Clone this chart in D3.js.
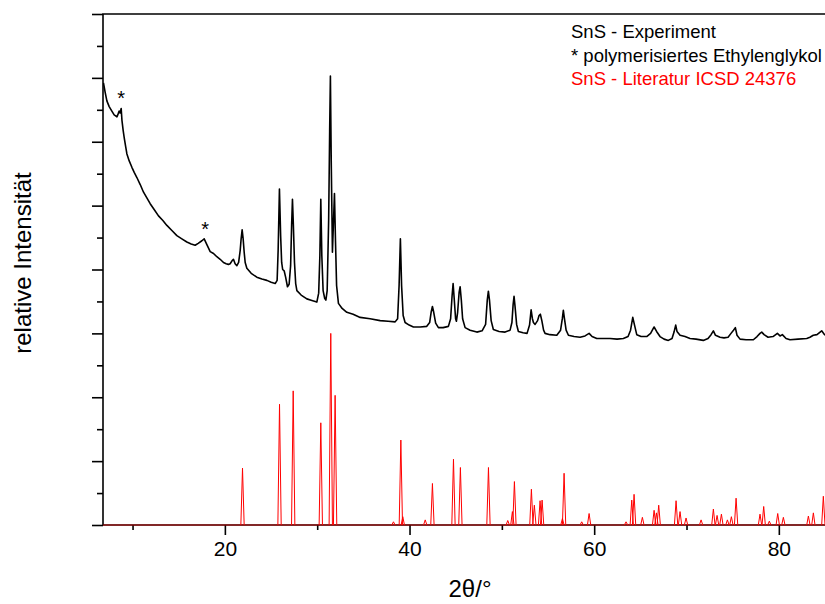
<!DOCTYPE html>
<html>
<head>
<meta charset="utf-8">
<script src="https://cdn.jsdelivr.net/npm/d3@7"></script>
<style>
  body { margin: 0; background: #fff; }
  svg { display: block; font-family: "Liberation Sans", Arial, sans-serif; }
</style>
</head>
<body>
<svg id="chart" width="825" height="604"></svg>
<script>
// ---- data: [2θ in degrees, relative intensity (arb. units)] ----
const expPattern = [
[6.85,6.92],[7.04,6.77],[7.22,6.64],[7.47,6.55],[7.76,6.48],[8.01,6.42],[8.31,6.39],[8.45,6.44],[8.55,6.48],[8.66,6.45],[8.77,6.52],[8.85,6.34],[8.99,6.17],[9.10,6.06],[9.26,5.92],[9.39,5.81],[9.64,5.70],[9.93,5.60],[10.18,5.52],[10.47,5.44],[10.83,5.33],[11.19,5.21],[11.55,5.12],[11.91,5.03],[12.34,4.94],[12.81,4.84],[13.26,4.77],[13.72,4.69],[14.26,4.61],[14.80,4.53],[15.34,4.48],[15.88,4.43],[16.35,4.40],[16.78,4.38],[17.11,4.41],[17.51,4.45],[17.76,4.48],[18.05,4.39],[18.41,4.28],[18.77,4.25],[19.13,4.20],[19.49,4.16],[19.85,4.11],[20.14,4.09],[20.39,4.08],[20.57,4.09],[20.79,4.14],[20.93,4.16],[21.11,4.09],[21.30,4.06],[21.49,4.11],[21.66,4.30],[21.76,4.48],[21.87,4.62],[21.98,4.48],[22.09,4.27],[22.20,4.11],[22.38,4.02],[22.85,3.94],[23.46,3.88],[24.01,3.85],[24.55,3.83],[25.01,3.80],[25.45,3.78],[25.66,3.83],[25.77,4.30],[25.91,5.26],[26.04,4.53],[26.15,4.11],[26.26,4.00],[26.42,3.98],[26.58,3.88],[26.78,3.73],[26.96,3.77],[27.12,4.06],[27.23,4.69],[27.32,5.10],[27.42,4.69],[27.54,4.11],[27.67,3.78],[27.80,3.67],[28.26,3.60],[28.88,3.54],[29.34,3.52],[29.96,3.49],[30.16,3.63],[30.29,4.22],[30.39,5.10],[30.50,4.22],[30.64,3.67],[30.81,3.55],[30.94,3.52],[31.08,3.67],[31.24,4.77],[31.35,6.17],[31.43,7.03],[31.52,5.70],[31.65,4.27],[31.75,4.69],[31.87,5.19],[31.98,4.45],[32.10,3.75],[32.30,3.47],[32.70,3.39],[33.21,3.33],[33.89,3.30],[34.65,3.25],[35.73,3.23],[36.82,3.20],[37.68,3.19],[38.44,3.18],[38.71,3.23],[38.87,3.75],[39.01,4.48],[39.14,3.75],[39.31,3.28],[39.52,3.17],[39.96,3.13],[40.42,3.10],[41.15,3.10],[41.87,3.11],[42.18,3.17],[42.34,3.33],[42.48,3.42],[42.62,3.33],[42.83,3.16],[43.13,3.09],[43.64,3.09],[44.21,3.11],[44.45,3.23],[44.61,3.59],[44.72,3.78],[44.85,3.52],[44.99,3.23],[45.08,3.19],[45.21,3.33],[45.37,3.64],[45.48,3.73],[45.61,3.52],[45.75,3.23],[46.02,3.09],[46.56,3.05],[47.29,3.02],[47.86,3.04],[48.24,3.14],[48.42,3.52],[48.54,3.66],[48.66,3.52],[48.84,3.20],[49.08,3.06],[49.70,3.03],[50.35,3.02],[50.89,3.05],[51.09,3.17],[51.22,3.45],[51.32,3.58],[51.43,3.42],[51.60,3.14],[51.79,3.03],[52.30,3.01],[52.73,3.00],[53.00,3.13],[53.17,3.37],[53.31,3.23],[53.42,3.17],[53.60,3.14],[53.87,3.20],[54.03,3.28],[54.17,3.30],[54.33,3.20],[54.52,3.05],[54.68,3.00],[55.22,2.98],[55.95,2.97],[56.36,3.05],[56.55,3.23],[56.66,3.36],[56.78,3.23],[56.96,3.05],[57.21,2.97],[57.82,2.95],[58.47,2.94],[59.01,2.96],[59.45,3.00],[59.77,2.95],[60.28,2.92],[60.96,2.92],[61.72,2.92],[62.48,2.91],[63.16,2.92],[63.67,2.95],[63.94,3.05],[64.18,3.25],[64.37,3.13],[64.61,2.98],[65.08,2.95],[65.69,2.95],[66.11,3.00],[66.49,3.10],[66.76,3.03],[67.13,2.95],[67.57,2.91],[68.03,2.89],[68.43,2.92],[68.65,3.02],[68.83,3.13],[68.97,3.03],[69.30,2.97],[69.84,2.95],[70.38,2.92],[71.03,2.91],[71.82,2.89],[72.33,2.92],[72.66,2.98],[72.91,3.04],[73.14,2.97],[73.63,2.94],[74.06,2.93],[74.50,2.94],[74.82,3.00],[75.09,3.05],[75.29,3.09],[75.47,2.97],[75.80,2.91],[76.45,2.90],[77.24,2.90],[77.64,2.95],[77.96,3.00],[78.15,3.02],[78.40,2.98],[78.83,2.94],[79.37,2.95],[79.84,3.00],[80.13,2.96],[80.38,2.98],[80.78,2.92],[81.21,2.90],[82.08,2.91],[83.02,2.92],[83.37,2.94],[83.73,2.97],[84.13,2.98],[84.64,3.04],[85.00,2.97]
];

const refTheta = [21.91,25.92,27.40,30.39,31.47,31.94,38.26,39.06,39.27,41.70,42.48,44.76,45.51,48.55,50.64,51.14,51.36,53.20,53.52,54.14,54.36,56.56,56.74,58.65,59.45,63.45,64.07,64.32,65.22,66.49,66.74,66.99,68.87,69.30,69.95,71.58,72.91,73.31,73.78,74.43,74.86,75.37,77.96,78.36,78.97,79.88,80.49,83.20,83.74,84.82];
const refIntensity = [0.89,1.89,2.10,1.60,3.00,2.03,0.05,1.33,0.13,0.08,0.65,1.03,0.90,0.90,0.07,0.21,0.68,0.56,0.31,0.38,0.39,0.10,0.81,0.05,0.18,0.05,0.39,0.48,0.12,0.23,0.19,0.31,0.38,0.21,0.11,0.08,0.25,0.15,0.17,0.08,0.13,0.42,0.17,0.29,0.06,0.18,0.12,0.14,0.19,0.45];

const starMarks = [[8.77, 6.58], [17.87, 4.53]];

const xMajorTicks = [20, 40, 60, 80];
const xMinorTicks = [10, 30, 50, 70];
const yMajorTicks = [0, 1, 2, 3, 4, 5, 6, 7, 8];
const yMinorTicks = [0.5, 1.5, 2.5, 3.5, 4.5, 5.5, 6.5, 7.5];

const legendLines = [
  {text: "SnS - Experiment", color: "#000"},
  {text: "* polymerisiertes Ethylenglykol", color: "#000"},
  {text: "SnS - Literatur ICSD 24376", color: "#ff0000"}
];

// ---- layout ----
const svg = d3.select("#chart");
const pLeft = 103, pRight = 825, pTop = 14, pBottom = 525;
const x = d3.scaleLinear().domain([6.8, 85]).range([pLeft, pRight]);
const y = d3.scaleLinear().domain([0, 8]).range([pBottom, pTop]);

svg.append("defs").append("clipPath").attr("id", "plotclip")
  .append("rect").attr("x", pLeft).attr("y", pTop).attr("width", pRight - pLeft).attr("height", pBottom - pTop + 2);

// axes
const gx1 = svg.append("g").attr("transform", `translate(0,${pBottom})`)
  .call(d3.axisBottom(x).tickValues(xMajorTicks).tickSize(10).tickPadding(6).tickFormat(d3.format("d")));
const gx2 = svg.append("g").attr("transform", `translate(0,${pBottom})`)
  .call(d3.axisBottom(x).tickValues(xMinorTicks).tickSize(5).tickFormat(""));
const gy1 = svg.append("g").attr("transform", `translate(${pLeft},0)`)
  .call(d3.axisLeft(y).tickValues(yMajorTicks).tickSize(11).tickFormat(""));
const gy2 = svg.append("g").attr("transform", `translate(${pLeft},0)`)
  .call(d3.axisLeft(y).tickValues(yMinorTicks).tickSize(6).tickFormat(""));
[gx1, gx2, gy1, gy2].forEach(g => {
  g.select(".domain").remove();
  g.selectAll(".tick line").attr("stroke", "#000").attr("stroke-width", 1.6);
  g.selectAll(".tick text").attr("font-size", 21).attr("fill", "#000")
    .attr("font-family", "Liberation Sans, Arial, sans-serif");
});

// frame (left, top, bottom)
svg.append("path")
  .attr("d", `M${pRight},${pTop}H${pLeft}V${pBottom}H${pRight}`)
  .attr("fill", "none").attr("stroke", "#000").attr("stroke-width", 1.6);

const plot = svg.append("g").attr("clip-path", "url(#plotclip)");

// reference pattern (red)
const hw = 0.18;
plot.append("line")
  .attr("x1", pLeft).attr("x2", pRight).attr("y1", y(0)).attr("y2", y(0))
  .attr("stroke", "#ff0000").attr("stroke-width", 1).attr("opacity", 0.7);
const refLine = d3.line().x(d => x(d[0])).y(d => y(d[1]));
plot.selectAll("path.ref").data(refTheta.map((t, i) => [t, refIntensity[i]]))
  .join("path").attr("class", "ref")
  .attr("d", d => refLine([[d[0] - hw, 0], [d[0], d[1]], [d[0] + hw, 0]]))
  .attr("fill", "none").attr("stroke", "#ff0000").attr("stroke-width", 1);

// experimental pattern (black)
plot.append("path")
  .attr("d", d3.line().x(d => x(d[0])).y(d => y(d[1]))(expPattern))
  .attr("fill", "none").attr("stroke", "#000").attr("stroke-width", 1.6)
  .attr("stroke-linejoin", "round");

// star marks
svg.selectAll("text.star").data(starMarks).join("text")
  .attr("class", "star")
  .attr("x", d => x(d[0])).attr("y", d => y(d[1]))
  .attr("text-anchor", "middle").attr("font-size", 20).text("*");

// legend
svg.selectAll("text.leg").data(legendLines).join("text")
  .attr("class", "leg")
  .attr("x", 571).attr("y", (d, i) => 38 + i * 23.5)
  .attr("font-size", 18.5).attr("fill", d => d.color).text(d => d.text);

// axis labels
svg.append("text").attr("x", 470).attr("y", 597).attr("text-anchor", "middle")
  .attr("font-size", 24).text("2θ/°");
svg.append("text").attr("transform", "translate(31,263) rotate(-90)")
  .attr("text-anchor", "middle").attr("font-size", 24).text("relative Intensität");
</script>
</body>
</html>
